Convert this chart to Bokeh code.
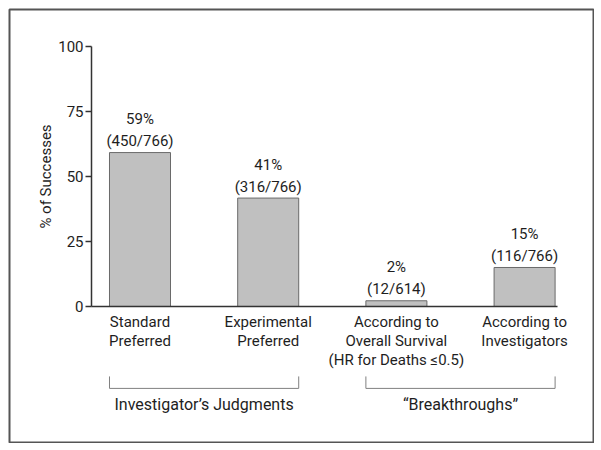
from bokeh.plotting import figure
from bokeh.models import Range1d, FixedTicker
from bokeh.core.properties import value
from bokeh.embed import file_html
from bokeh.resources import INLINE

# ---- data ----
categories = ["Standard\nPreferred",
              "Experimental\nPreferred",
              "According to\nOverall Survival\n(HR for Deaths \u22640.5)",
              "According to\nInvestigators"]
percents = [59.2, 41.7, 2.2, 15.0]
pct_labels = ["59%", "41%", "2%", "15%"]
count_labels = ["(450/766)", "(316/766)", "(12/614)", "(116/766)"]
groups = ["Investigator\u2019s Judgments", "\u201cBreakthroughs\u201d"]
group_members = [(0, 1), (2, 3)]
y_ticks = [0, 25, 50, 75, 100]

FONT = "Roboto"
TXT = "#1e1e1e"
BAR_W = 0.476
xs = list(range(len(categories)))

p = figure(width=594, height=443, output_backend="svg", toolbar_location=None,
           x_range=Range1d(-1.018, 3.5375), y_range=Range1d(-52.31, 114.23),
           min_border_left=9, min_border_top=9, min_border_right=1,
           min_border_bottom=1, title=None)
p.xgrid.visible = False
p.ygrid.visible = False
p.outline_line_color = "#555555"
p.outline_line_width = 2
p.background_fill_color = "white"
p.border_fill_color = "white"

# bars
p.vbar(x=xs, top=percents, bottom=0, width=BAR_W,
       fill_color="#c0c0c0", line_color="#6a6a6a", line_width=1)

# value labels
p.text(x=xs, y=percents, text=count_labels, y_offset=-11.5,
       text_align="center", text_baseline="middle",
       text_font=value(FONT), text_font_size="15px", text_color=TXT)
p.text(x=xs, y=percents, text=pct_labels, y_offset=-33.5,
       text_align="center", text_baseline="middle",
       text_font=value(FONT), text_font_size="15px", text_color=TXT)

# brackets and group labels
bx, by, gx = [], [], []
for a, b in group_members:
    x0, x1 = xs[a] - BAR_W / 2, xs[b] + BAR_W / 2
    bx.append([x0, x0, x1, x1])
    by.append([-26.9, -31.5, -31.5, -26.9])
    gx.append((xs[a] + xs[b]) / 2)
p.multi_line(xs=bx, ys=by, line_color="#808080", line_width=1)
p.text(x=gx, y=[-37.8] * len(gx), text=groups, text_align="center",
       text_baseline="middle", text_font=value(FONT), text_font_size="16px",
       text_color=TXT)

# x axis
xa = p.xaxis[0]
xa.fixed_location = 0
xa.bounds = (-0.378, 3.257)
xa.ticker = FixedTicker(ticks=xs)
xa.major_label_overrides = {i: c for i, c in zip(xs, categories)}
xa.major_tick_out = 0
xa.major_tick_in = 0
xa.minor_tick_out = 0
xa.minor_tick_in = 0
xa.major_label_standoff = 7
xa.axis_line_color = "#333333"
xa.axis_line_width = 1.5
xa.major_label_text_font = FONT
xa.major_label_text_font_size = "15px"
xa.major_label_text_color = TXT
xa.major_label_text_line_height = 1.05

# y axis
ya = p.yaxis[0]
ya.fixed_location = -0.378
ya.bounds = (0, 100)
ya.ticker = FixedTicker(ticks=y_ticks)
ya.major_tick_out = 6
ya.major_tick_in = 0
ya.minor_tick_out = 0
ya.minor_tick_in = 0
ya.major_label_standoff = 2
ya.axis_line_color = "#333333"
ya.axis_line_width = 1.5
ya.major_tick_line_color = "#333333"
ya.major_tick_line_width = 1.5
ya.major_label_text_font = FONT
ya.major_label_text_font_size = "15px"
ya.major_label_text_color = TXT
ya.axis_label = "% of Successes"
ya.axis_label_text_font = FONT
ya.axis_label_text_font_size = "15px"
ya.axis_label_text_font_style = "normal"
ya.axis_label_text_color = TXT
ya.axis_label_standoff = 0

open("out.html", "w").write(file_html(p, INLINE))
